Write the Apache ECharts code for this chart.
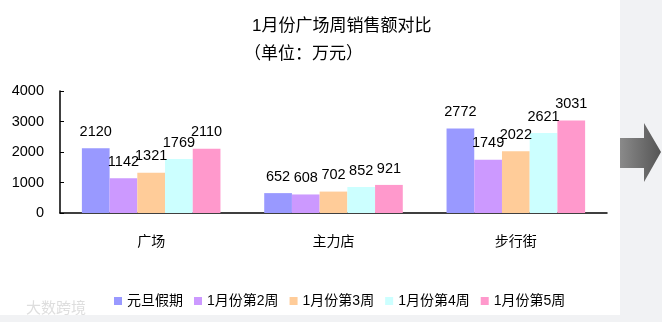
<!DOCTYPE html>
<html>
<head>
<meta charset="utf-8">
<script src="https://cdn.jsdelivr.net/npm/echarts@6/dist/echarts.min.js"></script>
<style>
    html, body { margin: 0; padding: 0; background: #f1f2f4; }
    #chart { width: 662px; height: 322px; }
</style>
</head>
<body>
<div id="chart"></div>
<script>
// 数据
var categories = ['广场', '主力店', '步行街'];
var seriesNames = ['元旦假期', '1月份第2周', '1月份第3周', '1月份第4周', '1月份第5周'];
var holiday = [2120, 652, 2772];
var week2 = [1142, 608, 1749];
var week3 = [1321, 702, 2022];
var week4 = [1769, 852, 2621];
var week5 = [2110, 921, 3031];
var colors = ['#9999ff', '#cc99ff', '#ffcc99', '#ccffff', '#ff99cc'];

var fontStack = "'Liberation Sans', 'Noto Sans CJK SC', sans-serif";

var chart = echarts.init(document.getElementById('chart'));

var make_series = function (name, data, i) {
    return {
        name: name,
        type: 'bar',
        data: data,
        barGap: '0%',
        barCategoryGap: '24%',
        itemStyle: { color: colors[i] },
        label: {
            show: true,
            position: 'top',
            distance: 9,
            color: '#000',
            fontSize: 14.5,
            fontFamily: fontStack
        }
    };
};

var allData = [holiday, week2, week3, week4, week5];
var series = [];
for (var i = 0; i < seriesNames.length; i++) {
    series.push(make_series(seriesNames[i], allData[i], i));
}

var option = {
    backgroundColor: '#f1f2f4',
    animation: false,
    textStyle: { fontFamily: fontStack },
    graphic: [
        // 白色幻灯片区域
        { type: 'rect', left: 0, top: 0, z: -10, shape: { width: 620, height: 315 }, style: { fill: '#ffffff' } },
        // 右侧箭头
        {
            type: 'polygon', z: -5,
            shape: { points: [[620, 138], [644, 138], [644, 123], [661, 152], [644, 182], [644, 168], [620, 168]] },
            style: {
                fill: new echarts.graphic.LinearGradient(0, 0, 1, 0, [
                    { offset: 0, color: '#8a8a8a' },
                    { offset: 1, color: '#555555' }
                ])
            }
        },
        // 水印
        { type: 'text', left: 26, top: 301, z: -5, style: { text: '大数跨境', fill: '#dedede', fontSize: 15, fontFamily: fontStack } }
    ],
    title: [
        {
            text: '1月份广场周销售额对比',
            left: 247,
            top: 13,
            textStyle: { color: '#000', fontSize: 17, fontWeight: 'normal', fontFamily: fontStack }
        },
        {
            text: '（单位：万元）',
            left: 239,
            top: 41,
            textStyle: { color: '#000', fontSize: 17, fontWeight: 'normal', fontFamily: fontStack }
        }
    ],
    legend: {
        data: seriesNames,
        left: 109,
        top: 289,
        itemWidth: 8,
        itemHeight: 8,
        itemGap: 11,
        icon: 'rect',
        textStyle: { color: '#000', fontSize: 14, fontFamily: fontStack }
    },
    grid: {
        left: 60,
        right: 55,
        top: 91,
        bottom: 109
    },
    xAxis: {
        type: 'category',
        data: categories,
        axisLine: { lineStyle: { color: '#000', width: 1.5 } },
        axisTick: { show: false },
        axisLabel: { color: '#000', fontSize: 14, margin: 22, fontFamily: fontStack }
    },
    yAxis: {
        type: 'value',
        min: 0,
        max: 4000,
        interval: 1000,
        splitLine: { show: false },
        axisLine: { show: true, lineStyle: { color: '#000', width: 1.5 } },
        axisTick: { show: true, inside: true, length: 4, lineStyle: { color: '#000' } },
        axisLabel: {
            color: '#000', fontSize: 14.5, margin: 16, fontFamily: fontStack,
            formatter: function (v) { return String(v); }
        }
    },
    series: series
};

chart.setOption(option);
</script>
</body>
</html>
